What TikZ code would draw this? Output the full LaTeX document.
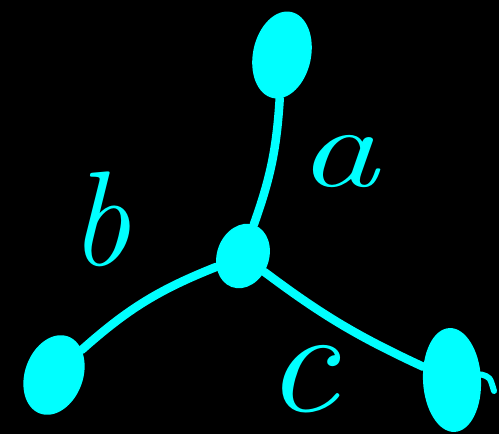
\documentclass[tikz,border=0pt]{standalone}
\usetikzlibrary{shapes.geometric}
\definecolor{ink}{RGB}{0,255,255}
\begin{document}
\begin{tikzpicture}[x=1pt,y=1pt,
  blob/.style={ellipse, fill=ink, draw=none, inner sep=0pt},
  stroke/.style={draw=ink, line width=8.5pt, line cap=round, line join=round},
  lbl/.style={text=ink, inner sep=0pt, text depth=0pt}]
  % black canvas
  \fill[black] (0,0) rectangle (499,434);
  \useasboundingbox (0,0) rectangle (499,434);

  % vertices
  \node[blob, minimum width=58pt, minimum height=88pt, rotate=-12] (top) at (282,379) {};
  \node[blob, minimum width=52pt, minimum height=66pt, rotate=-20] (mid) at (243,178) {};
  \node[blob, minimum width=58pt, minimum height=82pt, rotate=-20] (left) at (54,59) {};
  \node[blob, minimum width=58pt, minimum height=104pt, rotate=3] (right) at (452,54) {};
  \coordinate (tail) at (494,43);

  % edges
  \draw[stroke] (top) to[bend left=8] (mid);
  \draw[stroke] (mid) to[bend right=10] (left);
  \draw[stroke] (mid) to[bend right=6] (right);
  \draw[stroke, line width=6pt] (right.8) .. controls (490,57) .. (tail);

  % edge labels
  \node[lbl, xscale=1.4, font=\fontsize{116}{116}\selectfont\itshape] (la) at (338,273) {a};
  \node[lbl, font=\fontsize{135}{135}\selectfont\itshape] (lb) at (100,215) {b};
  \node[lbl, xscale=1.1, font=\fontsize{150}{150}\selectfont\itshape] (lc) at (302,56) {c};
\end{tikzpicture}
\end{document}
